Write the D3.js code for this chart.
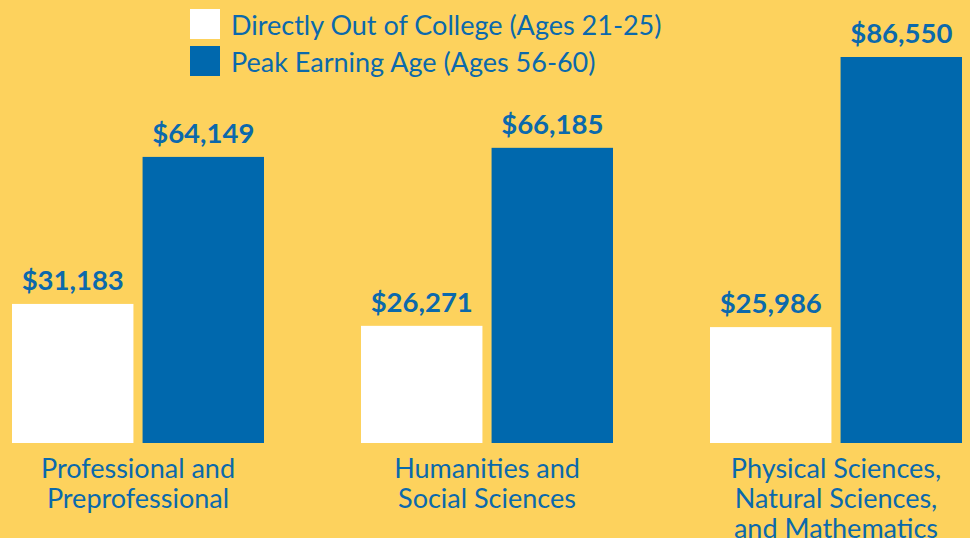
<!DOCTYPE html>
<html><head><meta charset="utf-8">
<script src="https://cdn.jsdelivr.net/npm/d3@7"></script>
<style>
html,body{margin:0;padding:0;background:#FDD25D;}
svg{display:block;}
text{font-family:Lato,"Noto Sans",sans-serif;fill:#0B69AC;}
</style></head>
<body>
<svg id="chart" width="970" height="538"></svg>
<script>
const categories = [["Professional and","Preprofessional"],["Humanities and","Social Sciences"],["Physical Sciences,","Natural Sciences,","and Mathematics"]];
const seriesNames = ["Directly Out of College (Ages 21-25)","Peak Earning Age (Ages 56-60)"];
const earlyValues = [31183, 26271, 25986];
const peakValues = [64149, 66185, 86550];
const seriesColors = ["#FFFFFF","#0068AD"];

const W = 970, H = 538;
const svg = d3.select("#chart");
svg.append("rect").attr("width",W).attr("height",H).attr("fill","#FDD25D");

const catIdx = d3.range(categories.length);
const x0 = d3.scalePoint().domain(catIdx).range([138, 836]);
const x1 = d3.scaleBand().domain([0,1]).range([-126,126]).paddingInner(0.07);
const y = d3.scaleLinear().domain([0, 86550]).range([443, 57]);

const data = catIdx.map(i => [earlyValues[i], peakValues[i]]);

const g = svg.append("g");
catIdx.forEach(i => {
  const gg = g.append("g").attr("transform", `translate(${x0(i)},0)`);
  data[i].forEach((v, s) => {
    gg.append("rect")
      .attr("x", x1(s)).attr("width", x1.bandwidth())
      .attr("y", y(v)).attr("height", y(0) - y(v))
      .attr("fill", seriesColors[s]);
    gg.append("text")
      .attr("x", x1(s) + x1.bandwidth()/2).attr("y", y(v) - 14)
      .attr("text-anchor","middle").attr("font-size", 27.5).attr("font-weight", 700)
      .text(d3.format("$,")(v));
  });
  const t = gg.append("text").attr("text-anchor","middle").attr("font-size", 27);
  categories[i].forEach((line, k) => {
    t.append("tspan").attr("x", 0).attr("y", 478 + k*30).text(line);
  });
});

const legend = svg.append("g");
seriesNames.forEach((n, s) => {
  legend.append("rect").attr("x",190).attr("y", 9 + s*37).attr("width",30).attr("height",30).attr("fill", seriesColors[s]);
  legend.append("text").attr("x",231).attr("y", 35 + s*37).attr("font-size",27).text(n);
});
</script>
</body></html>
